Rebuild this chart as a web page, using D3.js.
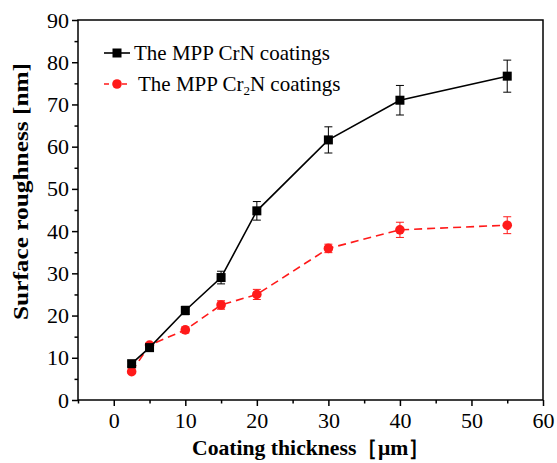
<!DOCTYPE html>
<html>
<head>
<meta charset="utf-8">
<script src="https://cdn.jsdelivr.net/npm/d3@7"></script>
<style>
	body { margin: 0; background: #fff; }
	svg text { font-family: "Liberation Serif", "Times New Roman", serif; }
</style>
</head>
<body>
<svg id="chart" width="557" height="463"></svg>
<script>
	/***** Data *****/
	var thickness = [2.5, 5, 10, 15, 20, 30, 40, 55];
	var crnRoughness = [8.6, 12.4, 21.2, 29.0, 44.8, 61.6, 71.0, 76.7];
	var crnError = [0.6, 0.8, 1.0, 1.5, 2.2, 3.1, 3.5, 3.8];
	var cr2nRoughness = [6.7, 13.0, 16.6, 22.5, 25.0, 35.9, 40.3, 41.4];
	var cr2nError = [0.3, 0.5, 0.7, 1.0, 1.2, 1.0, 1.8, 2.0];
	var xTicks = [0, 10, 20, 30, 40, 50, 60];
	var yTicks = [0, 10, 20, 30, 40, 50, 60, 70, 80, 90];

(function () {
	/***** Layout *****/
	var svg = d3.select("#chart");
	var plotLeft = 78, plotRight = 543, plotTop = 20, plotBottom = 400;
	var fontSize = 21;
	var tickFont = 22;

	var x = d3.scaleLinear().domain([-5, 60]).range([plotLeft, plotRight]);
	var y = d3.scaleLinear().domain([0, 90]).range([plotBottom, plotTop]);

	// frame
	svg.append("rect")
		.attr("x", plotLeft).attr("y", plotTop)
		.attr("width", plotRight - plotLeft).attr("height", plotBottom - plotTop)
		.attr("fill", "none").attr("stroke", "#000").attr("stroke-width", 1.5);

	// x axis major + minor ticks
	var xAxis = svg.append("g").attr("transform", "translate(0," + plotBottom + ")");
	xAxis.call(d3.axisBottom(x).tickValues(xTicks).tickSize(6).tickSizeOuter(0).tickPadding(6).tickFormat(d3.format("d")));
	xAxis.append("g").call(d3.axisBottom(x).tickValues(d3.range(-5, 60, 10)).tickSize(3.5).tickSizeOuter(0).tickFormat(""));
	xAxis.selectAll(".domain").remove();
	xAxis.selectAll("line").attr("stroke", "#000").attr("stroke-width", 1.5);
	xAxis.attr("font-size", tickFont).attr("font-family", "Liberation Serif");
	xAxis.selectAll("text").attr("fill", "#000");

	// y axis
	var yAxis = svg.append("g").attr("transform", "translate(" + plotLeft + ",0)");
	yAxis.call(d3.axisLeft(y).tickValues(yTicks).tickSize(6).tickSizeOuter(0).tickPadding(3).tickFormat(d3.format("d")));
	yAxis.append("g").call(d3.axisLeft(y).tickValues(d3.range(5, 90, 10)).tickSize(3.5).tickSizeOuter(0).tickFormat(""));
	yAxis.selectAll(".domain").remove();
	yAxis.selectAll("line").attr("stroke", "#000").attr("stroke-width", 1.5);
	yAxis.attr("font-size", tickFont).attr("font-family", "Liberation Serif");
	yAxis.selectAll("text").attr("fill", "#000");

	// axis titles
	svg.append("text")
		.attr("x", 192).attr("y", 455)
		.attr("font-size", 22).attr("font-weight", "bold")
		.attr("textLength", 238).attr("lengthAdjust", "spacingAndGlyphs")
		.text("Coating thickness［μm］");

	svg.append("text")
		.attr("transform", "translate(28,320) rotate(-90)")
		.attr("font-size", 22).attr("font-weight", "bold")
		.attr("textLength", 257).attr("lengthAdjust", "spacingAndGlyphs")
		.text("Surface roughness [nm]");

	/***** Series *****/
	function drawSeries(values, errors, color, dash, marker) {
		var pts = thickness.map(function (t, i) {
			return { x: t, y: values[i], e: errors[i] };
		});

		var line = d3.line().x(function (d) { return x(d.x); }).y(function (d) { return y(d.y); });
		svg.append("path").datum(pts)
			.attr("d", line)
			.attr("fill", "none").attr("stroke", color).attr("stroke-width", 1.6)
			.attr("stroke-dasharray", dash);

		// error bars
		var eb = svg.append("g").attr("stroke", color).attr("stroke-width", 1);
		pts.forEach(function (d) {
			eb.append("line").attr("x1", x(d.x)).attr("x2", x(d.x))
				.attr("y1", y(d.y - d.e)).attr("y2", y(d.y + d.e));
			[d.y - d.e, d.y + d.e].forEach(function (v) {
				eb.append("line").attr("x1", x(d.x) - 4).attr("x2", x(d.x) + 4)
					.attr("y1", y(v)).attr("y2", y(v));
			});
		});

		// markers
		pts.forEach(function (d) {
			drawMarker(svg, marker, x(d.x), y(d.y), color);
		});
	}

	function drawMarker(parent, marker, cx, cy, color) {
		if (marker == "square") {
			parent.append("rect").attr("x", cx - 4.5).attr("y", cy - 4.5)
				.attr("width", 9).attr("height", 9).attr("fill", color);
		} else {
			parent.append("circle").attr("cx", cx).attr("cy", cy).attr("r", 4.8).attr("fill", color);
		}
	}

	drawSeries(cr2nRoughness, cr2nError, "#ff1a1a", "8,5", "circle");
	drawSeries(crnRoughness, crnError, "#000", null, "square");

	/***** Legend *****/
	var legend = svg.append("g");
	legend.append("line").attr("x1", 104).attr("x2", 130).attr("y1", 53).attr("y2", 53)
		.attr("stroke", "#000").attr("stroke-width", 1.6);
	drawMarker(legend, "square", 117, 53, "#000");
	legend.append("text").attr("x", 134).attr("y", 60).attr("font-size", fontSize)
		.text("The MPP CrN coatings");

	legend.append("line").attr("x1", 104).attr("x2", 130).attr("y1", 84).attr("y2", 84)
		.attr("stroke", "#ff1a1a").attr("stroke-width", 1.6).attr("stroke-dasharray", "5,4");
	drawMarker(legend, "circle", 117, 84, "#ff1a1a");
	var t2 = legend.append("text").attr("x", 138).attr("y", 91).attr("font-size", fontSize);
	t2.append("tspan").text("The MPP Cr");
	t2.append("tspan").attr("font-size", 13).attr("dy", 4).text("2");
	t2.append("tspan").attr("dy", -4).text("N coatings");
})();
</script>
</body>
</html>
